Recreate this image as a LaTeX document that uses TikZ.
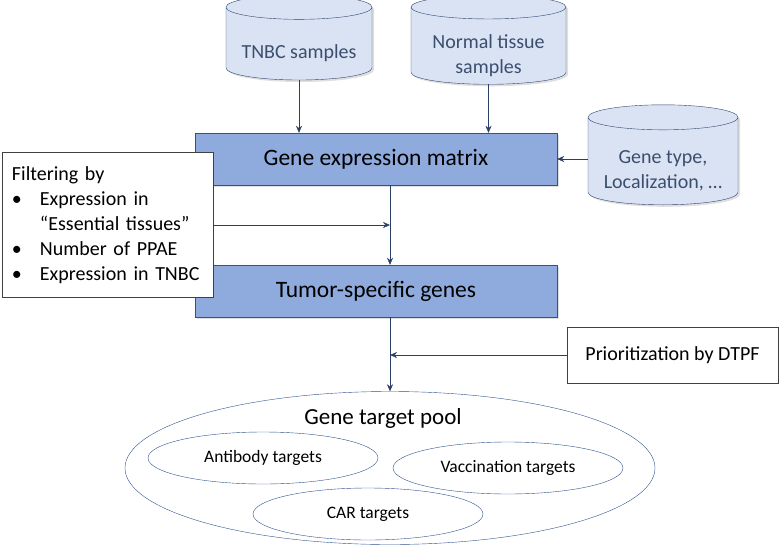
\documentclass[tikz,border=0pt]{standalone}
\usepackage{fontspec}
\setmainfont{Carlito}
\usetikzlibrary{shapes.geometric,shadows,arrows.meta}
\definecolor{cylfill}{HTML}{DAE3F3}
\definecolor{cylline}{HTML}{2F4670}
\definecolor{cyltext}{HTML}{3B4E6E}
\definecolor{boxfill}{HTML}{8FAADC}
\definecolor{boxline}{HTML}{2F528F}
\definecolor{flowline}{HTML}{2B3F66}
\newcommand\dbtext[1]{\raisebox{-8pt}[\height][\depth]{\begin{tabular}{@{}c@{}}#1\end{tabular}}}
\begin{document}
\begin{tikzpicture}[x=1pt,y=1pt,
  db/.style={cylinder, shape border rotate=90, aspect=0.2, draw=cylline, fill=cylfill,
    text=cyltext, font=\fontsize{20}{25}\selectfont,
    drop shadow={opacity=0.25, shadow xshift=2pt, shadow yshift=-2pt}},
  stage/.style={rectangle, draw=boxline, fill=boxfill, minimum width=362pt,
    minimum height=52pt, font=\fontsize{23.5}{28}\selectfont,
    drop shadow={opacity=0.25, shadow xshift=2pt, shadow yshift=-2pt}},
  note/.style={rectangle, draw=black!75, fill=white, inner sep=10pt},
  targets/.style={ellipse, draw=boxline, minimum width=230pt, minimum height=52pt,
    inner sep=0pt, font=\fontsize{17.5}{21}\selectfont},
  flow/.style={draw=flowline, -{Stealth[length=7pt,width=6pt]}}]
  \useasboundingbox (0,0) rectangle (780,-547);
  \node[db, minimum width=146pt, minimum height=85pt] (tnbc) at (299,-45.5) {\dbtext{TNBC samples}};
  \node[db, minimum width=155pt, minimum height=85pt] (normal) at (488.5,-47.5) {\dbtext{Normal tissue\\samples}};
  \node[db, minimum width=150pt, minimum height=100pt] (genetype) at (663,-163) {\dbtext{Gene type,\\Localization, \dots}};
  \node[stage] (gem) at (376,-159) {Gene expression matrix};
  \node[stage] (tsg) at (376,-291) {Tumor-specific genes};
  \node[note, minimum width=211pt, minimum height=138pt, text width=191pt,
    font=\fontsize{20}{25}\selectfont] (filter) at (107.5,-225) {%
    \begin{tabular}{@{}p{28pt}@{}l@{}}
    \multicolumn{2}{@{}l}{Filtering by}\\
    \textbullet & Expression in\\
     & “Essential tissues”\\
    \textbullet & Number of PPAE\\
    \textbullet & Expression in TNBC
    \end{tabular}};
  \node[note, minimum width=211pt, minimum height=56pt,
    font=\fontsize{20}{24}\selectfont] (prio) at (672.5,-355) {Prioritization by DTPF};
  \node[ellipse, draw=boxline, minimum width=530pt, minimum height=153pt] (pool) at (390,-468) {};
  \node[font=\fontsize{23}{28}\selectfont] (pooltitle) at (383,-418) {Gene target pool};
  \node[targets] (antibody) at (263,-458) {Antibody targets};
  \node[targets] (vaccine) at (508,-468) {Vaccination targets};
  \node[targets] (car) at (368,-514) {CAR targets};
  \draw[flow] (tnbc.south) -- (tnbc.south |- gem.north);
  \draw[flow] (normal.south) -- (normal.south |- gem.north);
  \draw[flow] (genetype.west |- gem.east) -- (gem.east);
  \draw[flow] (gem.south -| pool.north) -- (tsg.north -| pool.north);
  \draw[flow] (filter.east) -- (filter.east -| pool.north);
  \draw[flow] (tsg.south -| pool.north) -- (pool.north);
  \draw[flow] (prio.west) -- (prio.west -| pool.north);
\end{tikzpicture}
\end{document}
